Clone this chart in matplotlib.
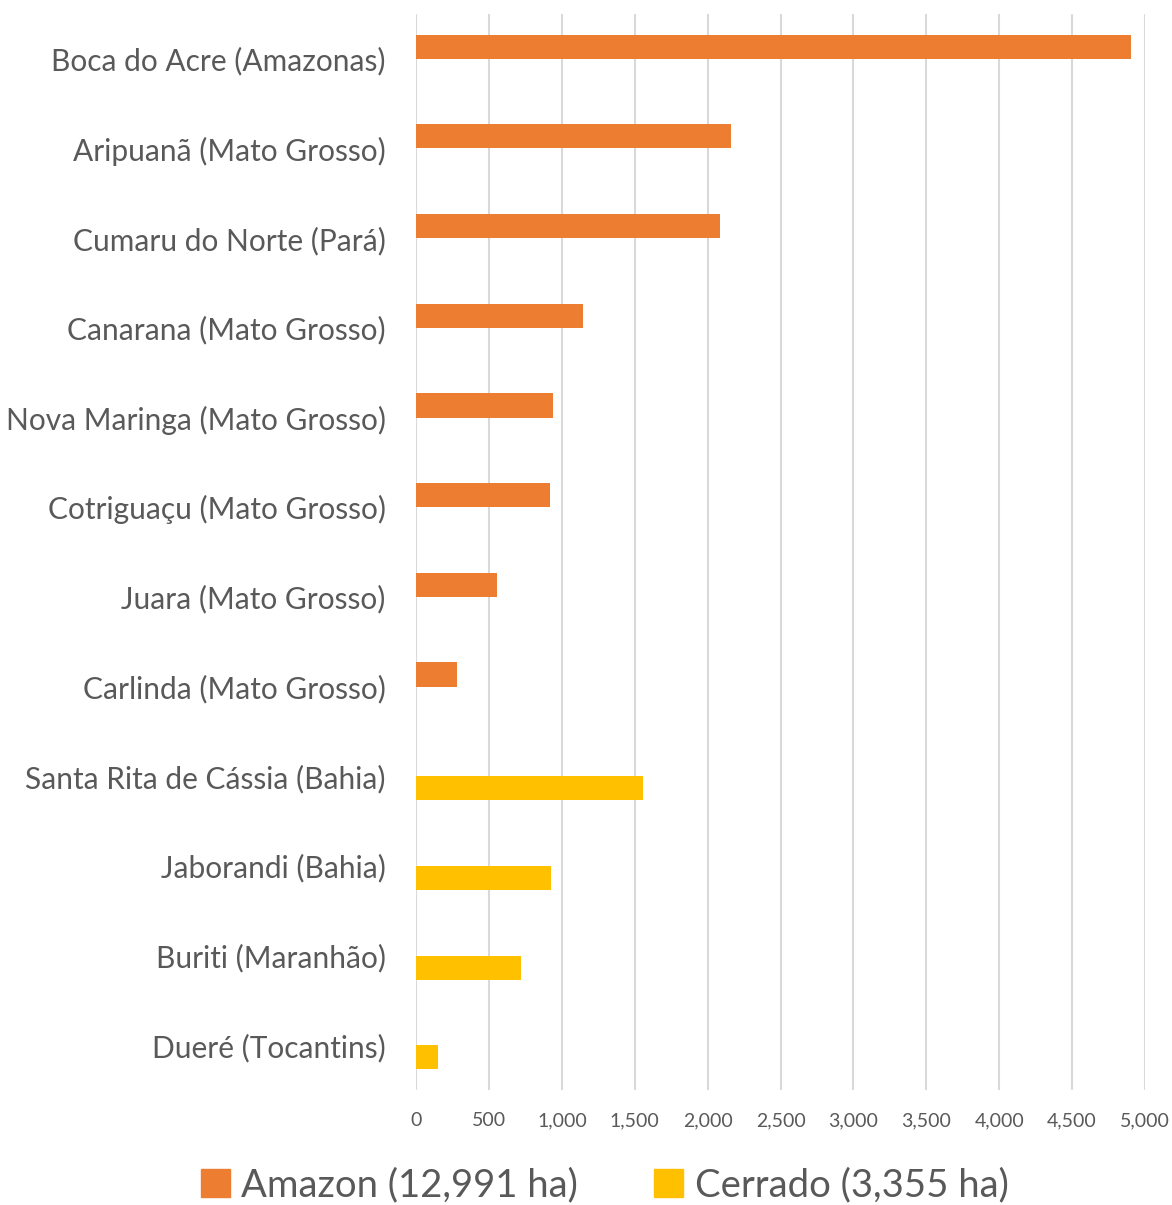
import numpy as np
import matplotlib
matplotlib.use("Agg")
import matplotlib.pyplot as plt
from matplotlib.patches import Patch

plt.rcParams['font.family'] = ['Lato', 'DejaVu Sans']

# municipalities, top to bottom
places = ["Boca do Acre (Amazonas)", "Aripuanã (Mato Grosso)", "Cumaru do Norte (Pará)",
          "Canarana (Mato Grosso)", "Nova Maringa (Mato Grosso)", "Cotriguaçu (Mato Grosso)",
          "Juara (Mato Grosso)", "Carlinda (Mato Grosso)", "Santa Rita de Cássia (Bahia)",
          "Jaborandi (Bahia)", "Buriti (Maranhão)", "Dueré (Tocantins)"]
amazon = [4905, 2160, 2085, 1145, 940, 918, 555, 283, 0, 0, 0, 0]
cerrado = [0, 0, 0, 0, 0, 0, 0, 0, 1556, 924, 723, 152]
series_names = ["Amazon (12,991 ha)", "Cerrado (3,355 ha)"]
colors = ["#ED7D31", "#FFC000"]
xticks = np.arange(0, 5001, 500)

fig = plt.figure(figsize=(11.72, 12.05), dpi=100)
ax = fig.add_axes([0.355, 0.0954, 0.622, 0.893])

y = np.arange(len(places))
w = 0.268
ax.barh(y - w / 2, amazon, height=w, color=colors[0], zorder=3)
ax.barh(y + w / 2, cerrado, height=w, color=colors[1], zorder=3)

ax.set_ylim(len(places) - 0.5, -0.5)
ax.set_xlim(0, 5000)
ax.set_xticks(xticks)
ax.set_xticklabels([f"{v:,}" for v in xticks], fontsize=14, color="#595959")
ax.set_yticks(y)
ax.set_yticklabels(places, fontsize=21.5, color="#595959")
ax.tick_params(length=0)
ax.tick_params(axis='x', pad=16)
ax.tick_params(axis='y', pad=22)
ax.grid(axis='x', color="#d9d9d9", linewidth=1.5, zorder=0)
for s in ax.spines.values():
    s.set_visible(False)

handles = [Patch(color=c, label=n) for c, n in zip(colors, series_names)]
fig.legend(handles=handles, loc='center', bbox_to_anchor=(0.516, 0.016), ncol=2,
           frameon=False, fontsize=27.5, handlelength=0.75, handleheight=0.75,
           handletextpad=0.3, columnspacing=2.0, labelcolor="#595959")

fig.savefig("out.png", dpi=100)
